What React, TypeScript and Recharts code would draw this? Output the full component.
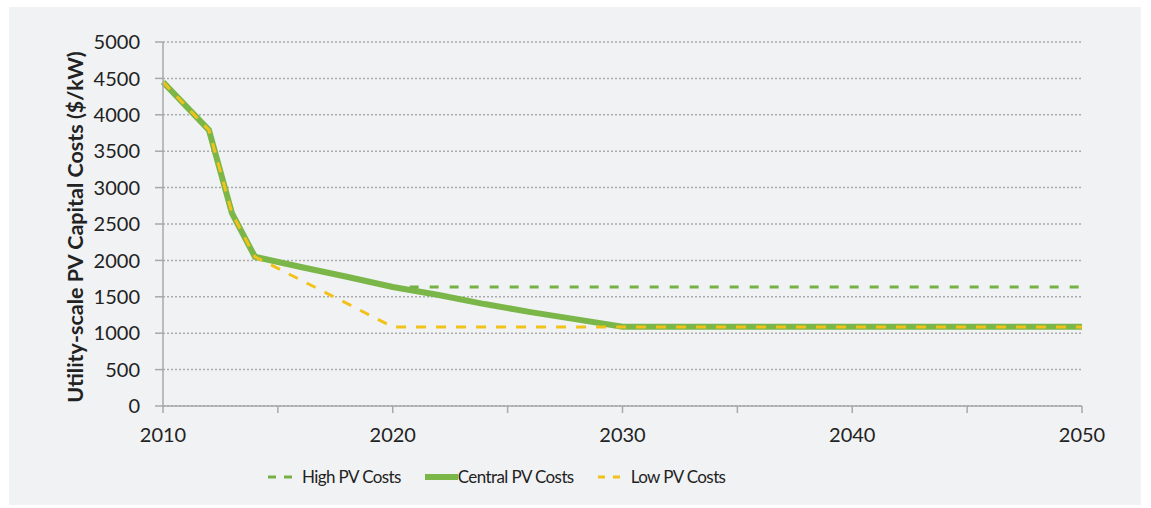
import { CartesianGrid, Label, Line, LineChart, XAxis, YAxis } from 'recharts';

// Years (x values)
const years = [2010, 2012, 2013, 2014, 2016, 2018, 2020, 2022, 2024, 2026, 2028, 2030, 2040, 2050];

// Capital costs in $/kW
const highCosts = [4450, 3790, 2650, 2050, 1910, 1775, 1635, 1635, 1635, 1635, 1635, 1635, 1635, 1635];
const centralCosts = [4450, 3790, 2650, 2050, 1910, 1775, 1635, 1525, 1400, 1290, 1190, 1090, 1090, 1090];
const lowCosts = [4450, 3790, 2650, 2050, 1730, 1410, 1085, 1085, 1085, 1085, 1085, 1085, 1085, 1085];

const yTicks = [0, 500, 1000, 1500, 2000, 2500, 3000, 3500, 4000, 4500, 5000];
const xTicks = [2010, 2015, 2020, 2025, 2030, 2035, 2040, 2045, 2050];

const FONT = 'Lato, "Open Sans", sans-serif';
const TEXT = '#222';
const AXIS = '#a8a8a8';

const series = [
  { key: 'high', name: 'High PV Costs', color: '#74b043', width: 3, dash: '9 11' },
  { key: 'central', name: 'Central PV Costs', color: '#7ab648', width: 6, dash: undefined },
  { key: 'low', name: 'Low PV Costs', color: '#f2c21b', width: 3, dash: '10 10' },
];

const rows = years.map((year, i) => ({
  year,
  high: highCosts[i],
  central: centralCosts[i],
  low: lowCosts[i],
}));

function LegendRow() {
  return (
    <div
      style={{
        position: 'absolute',
        left: 259,
        top: 459,
        display: 'flex',
        alignItems: 'center',
        fontFamily: FONT,
        fontSize: 17,
        letterSpacing: -0.6,
        color: TEXT,
        whiteSpace: 'nowrap',
      }}
    >
      {/* High */}
      <svg width={24} height={10} style={{ marginRight: 10 }}>
        <line x1={0} y1={5} x2={24} y2={5} stroke={series[0].color} strokeWidth={3} strokeDasharray="8 8" />
      </svg>
      <span style={{ marginRight: 24 }}>{series[0].name}</span>
      {/* Central */}
      <svg width={33} height={10}>
        <line x1={0} y1={5} x2={33} y2={5} stroke={series[1].color} strokeWidth={6} />
      </svg>
      <span style={{ marginRight: 24 }}>{series[1].name}</span>
      {/* Low */}
      <svg width={22} height={10} style={{ marginRight: 11 }}>
        <line x1={0} y1={5} x2={22} y2={5} stroke={series[2].color} strokeWidth={3} strokeDasharray="7 8" />
      </svg>
      <span>{series[2].name}</span>
    </div>
  );
}

export default function App() {
  return (
    <div style={{ position: 'absolute', left: 9, top: 7, width: 1132, height: 498, background: '#f1f2f4' }}>
      <LineChart width={1132} height={498} data={rows} margin={{ top: 35, right: 59, bottom: 59, left: 0 }}>
        <CartesianGrid horizontal vertical={false} stroke="#ababab" strokeWidth={1.5} strokeDasharray="2 2" />
        <XAxis
          dataKey="year"
          type="number"
          domain={[2010, 2050]}
          ticks={xTicks}
          tickFormatter={(v: number) => (v % 10 === 0 ? String(v) : '')}
          height={40}
          stroke={AXIS}
          strokeWidth={1.5}
          tickSize={7}
          tickMargin={15}
          tick={{ fill: TEXT, fontSize: 20, fontFamily: FONT }}
          interval={0}
        />
        <YAxis
          domain={[0, 5000]}
          ticks={yTicks}
          width={154}
          stroke={AXIS}
          strokeWidth={1.5}
          tickSize={8}
          tickMargin={15}
          tick={{ fill: TEXT, fontSize: 20, fontFamily: FONT }}
          interval={0}
        >
          <Label
            value="Utility-scale PV Capital Costs ($/kW)"
            angle={-90}
            position="center"
            dx={-11}
            dy={3}
            style={{ textAnchor: 'middle', fill: TEXT, fontSize: 21.5, fontWeight: 700, fontFamily: FONT }}
          />
        </YAxis>
        {series.map((s) => (
          <Line
            key={s.key}
            dataKey={s.key}
            name={s.name}
            type="linear"
            stroke={s.color}
            strokeWidth={s.width}
            strokeDasharray={s.dash}
            dot={false}
            activeDot={false}
            isAnimationActive={false}
          />
        ))}
      </LineChart>
      <LegendRow />
    </div>
  );
}
